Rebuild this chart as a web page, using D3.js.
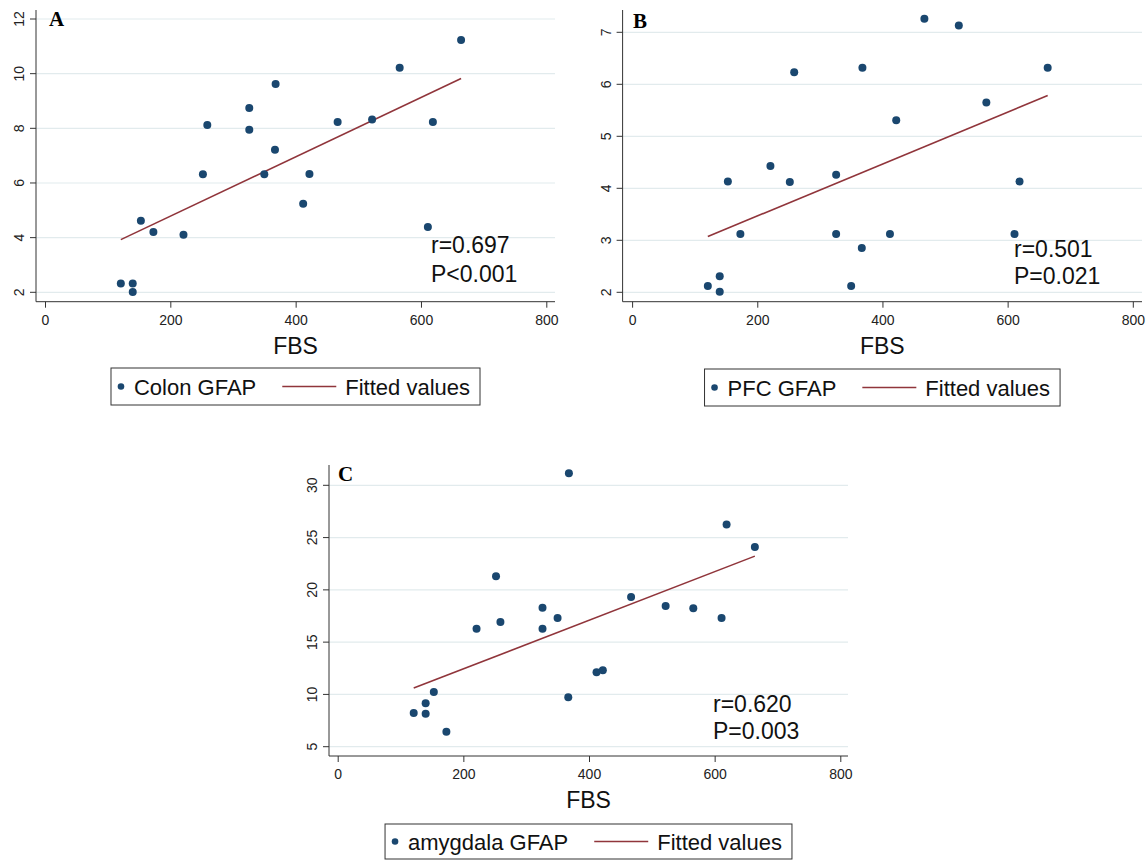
<!DOCTYPE html>
<html lang="en">

<head>
    <meta charset="UTF-8">
    <title>GFAP vs FBS</title>
    <script src="https://d3js.org/d3.v7.min.js"></script>
    <style>
        body {
            margin: 0;
            background: #fff;
        }

        svg {
            display: block;
            font-family: "Liberation Sans", Arial, sans-serif;
        }
    </style>
</head>

<body>
    <div id="chart"></div>
    <script>
        // values (same animals in every panel)
        const fbs = [121, 140, 140, 153, 173, 221, 252, 259, 326, 326, 368, 367, 350, 422, 412, 467, 522, 566, 619, 611, 664];
        const colonGfap = [2.32, 2.32, 2.01, 4.62, 4.21, 4.11, 6.32, 8.12, 8.74, 7.95, 9.62, 7.22, 6.32, 6.33, 5.24, 8.23, 8.32, 10.22, 8.23, 4.39, 11.23];
        const pfcGfap = [2.12, 2.31, 2.01, 4.13, 3.12, 4.43, 4.12, 6.23, 4.26, 3.12, 6.32, 2.85, 2.12, 5.31, 3.12, 7.26, 7.13, 5.65, 4.13, 3.12, 6.32];
        const amygdalaGfap = [8.22, 9.15, 8.16, 10.23, 6.43, 16.29, 21.29, 16.93, 18.30, 16.29, 31.15, 9.72, 17.31, 12.30, 12.11, 19.32, 18.46, 18.23, 26.24, 17.31, 24.10];

        const xTicks = [0, 200, 400, 600, 800];
        const colonTicks = [2, 4, 6, 8, 10, 12];
        const pfcTicks = [2, 3, 4, 5, 6, 7];
        const amygdalaTicks = [5, 10, 15, 20, 25, 30];

        const panelLetters = ["A", "B", "C"];
        const seriesNames = ["Colon GFAP", "PFC GFAP", "amygdala GFAP"];
        const statLines = [["r=0.697", "P<0.001"], ["r=0.501", "P=0.021"], ["r=0.620", "P=0.003"]];
        const xTitle = "FBS";
        const fitName = "Fitted values";

        const dotColor = "#1a476f";
        const fitColor = "#90353b";
        const gridColor = "#e2ebed";
        const axisColor = "#333";

        const svg = d3.select("#chart").append("svg")
            .attr("width", 1148)
            .attr("height", 861);

        // layout of the three panels
        const panels = [
            {
                y: colonGfap, yTicks: colonTicks,
                left: 36, right: 555, top: 10, bottom: 301.7,
                xRange: [45, 546.3], yRange: [292.3, 19],
                letter: [49, 26], stats: [431, 253, 29], legendTop: 368, legendH: 37
            },
            {
                y: pfcGfap, yTicks: pfcTicks,
                left: 622.6, right: 1142, top: 10, bottom: 301.7,
                xRange: [632.1, 1132.8], yRange: [292.3, 32.3],
                letter: [633, 28], stats: [1014, 257, 27], legendTop: 369, legendH: 37
            },
            {
                y: amygdalaGfap, yTicks: amygdalaTicks,
                left: 329, right: 848, top: 465, bottom: 756,
                xRange: [337.7, 840.3], yRange: [746.7, 485.3],
                letter: [338, 481], stats: [713, 712, 27], legendTop: 824, legendH: 35
            }
        ];

        // ordinary least squares, like Stata's lfit
        function linearFit(xs, ys) {
            const mx = d3.mean(xs), my = d3.mean(ys);
            const sxy = d3.sum(xs, (v, i) => (v - mx) * (ys[i] - my));
            const sxx = d3.sum(xs, v => (v - mx) * (v - mx));
            const b = sxy / sxx;
            return v => my + b * (v - mx);
        }

        function drawPanel(p, k) {
            const x = d3.scaleLinear().domain([xTicks[0], xTicks[xTicks.length - 1]]).range(p.xRange);
            const y = d3.scaleLinear().domain([p.yTicks[0], p.yTicks[p.yTicks.length - 1]]).range(p.yRange);
            const g = svg.append("g");

            // gridlines
            g.selectAll(".grid")
                .data(p.yTicks)
                .join("line")
                .attr("x1", p.left).attr("x2", p.right)
                .attr("y1", d => y(d)).attr("y2", d => y(d))
                .attr("stroke", gridColor)
                .attr("stroke-width", 1.2);

            // x axis
            g.append("g")
                .attr("transform", `translate(0,${p.bottom})`)
                .call(d3.axisBottom(x).tickValues(xTicks).tickSize(6).tickPadding(7))
                .call(a => a.select(".domain").remove())
                .call(a => a.selectAll("line").attr("stroke", axisColor))
                .call(a => a.selectAll("text")
                    .attr("fill", "#222")
                    .style("font", "14px 'Liberation Sans', Arial, sans-serif"));

            // y axis ticks and rotated labels
            g.selectAll(".ytick")
                .data(p.yTicks)
                .join("line")
                .attr("x1", p.left - 6).attr("x2", p.left)
                .attr("y1", d => y(d)).attr("y2", d => y(d))
                .attr("stroke", axisColor);

            g.selectAll(".ylabel")
                .data(p.yTicks)
                .join("text")
                .attr("transform", d => `translate(${p.left - 17},${y(d)}) rotate(-90)`)
                .attr("text-anchor", "middle")
                .attr("dy", "0.36em")
                .attr("font-size", 14)
                .attr("fill", "#222")
                .text(d => d);

            // axis lines
            g.append("line")
                .attr("x1", p.left).attr("x2", p.left)
                .attr("y1", p.top).attr("y2", p.bottom)
                .attr("stroke", axisColor);
            g.append("line")
                .attr("x1", p.left).attr("x2", p.right)
                .attr("y1", p.bottom).attr("y2", p.bottom)
                .attr("stroke", axisColor);

            // fitted line across the observed range
            const fit = linearFit(fbs, p.y);
            const ends = d3.extent(fbs);
            g.append("path")
                .attr("d", d3.line()(ends.map(v => [x(v), y(fit(v))])))
                .attr("stroke", fitColor)
                .attr("stroke-width", 1.6)
                .attr("fill", "none");

            // points
            g.selectAll(".dot")
                .data(fbs)
                .join("circle")
                .attr("cx", d => x(d))
                .attr("cy", (d, i) => y(p.y[i]))
                .attr("r", 4)
                .attr("fill", dotColor);

            // panel letter
            g.append("text")
                .attr("x", p.letter[0]).attr("y", p.letter[1])
                .attr("font-family", "'Liberation Serif', 'Times New Roman', serif")
                .attr("font-weight", "bold")
                .attr("font-size", 21)
                .text(panelLetters[k]);

            // r / P annotation
            g.selectAll(".stat")
                .data(statLines[k])
                .join("text")
                .attr("x", p.stats[0])
                .attr("y", (d, i) => p.stats[1] + i * p.stats[2])
                .attr("font-size", 23)
                .attr("fill", "#111")
                .text(d => d);

            // axis title
            const cx = (p.left + p.right) / 2;
            g.append("text")
                .attr("x", cx)
                .attr("y", p.bottom + 52)
                .attr("text-anchor", "middle")
                .attr("font-size", 23)
                .attr("fill", "#111")
                .text(xTitle);

            // legend, centred under the axis title
            const lg = g.append("g");
            const box = lg.append("rect")
                .attr("fill", "#fff")
                .attr("stroke", axisColor);
            const midY = p.legendTop + p.legendH / 2;
            const dot = lg.append("circle").attr("r", 3.3).attr("fill", dotColor).attr("cy", midY);
            const t1 = lg.append("text").attr("font-size", 22).attr("fill", "#111")
                .attr("y", midY + 8).text(seriesNames[k]);
            const ln = lg.append("line").attr("stroke", fitColor).attr("stroke-width", 1.4)
                .attr("y1", midY).attr("y2", midY);
            const t2 = lg.append("text").attr("font-size", 22).attr("fill", "#111")
                .attr("y", midY + 8).text(fitName);

            const w1 = t1.node().getComputedTextLength();
            const w2 = t2.node().getComputedTextLength();
            const total = 10 + 13 + w1 + 26 + 54 + 9 + w2 + 10;
            const x0 = cx - total / 2;
            box.attr("x", x0).attr("y", p.legendTop).attr("width", total).attr("height", p.legendH);
            dot.attr("cx", x0 + 10);
            t1.attr("x", x0 + 23);
            ln.attr("x1", x0 + 23 + w1 + 26).attr("x2", x0 + 23 + w1 + 80);
            t2.attr("x", x0 + 23 + w1 + 89);
        }

        panels.forEach(drawPanel);
    </script>
</body>

</html>
